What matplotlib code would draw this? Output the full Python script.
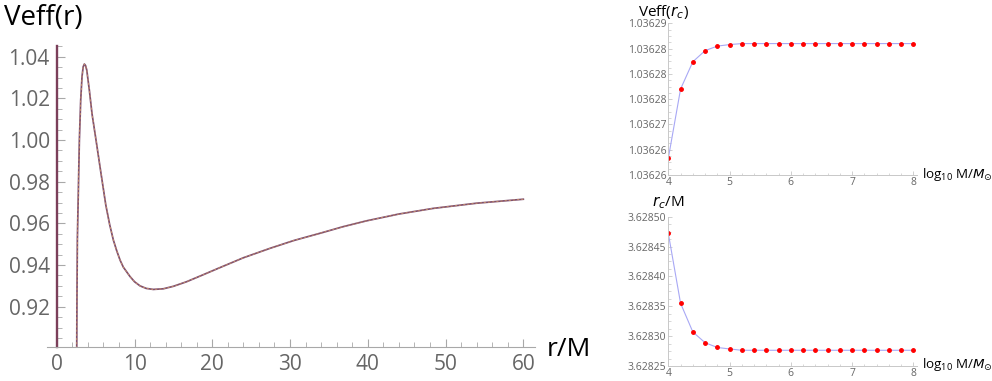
import matplotlib.pyplot as plt
from matplotlib.ticker import MultipleLocator, FixedLocator

plt.rcParams['font.family'] = ['Open Sans', 'DejaVu Sans']

# left panel: effective potential
r_vals = [2.55, 2.57, 2.60, 2.65, 2.78, 2.91, 3.08, 3.25, 3.40, 3.55, 3.70, 3.86,
          4.19, 4.54, 5.05, 5.65, 6.30, 6.80, 7.28, 7.70, 8.14, 8.56, 9.42, 10.0,
          10.71, 11.5, 12.4, 13.7, 15.0, 16.7, 18.8, 21.0, 24.0, 27.4, 30.5, 33.8,
          36.8, 39.8, 44.0, 48.4, 54.0, 60.0]
veff_vals = [0.890, 0.8992, 0.925, 0.952, 0.976, 1.000, 1.0192, 1.0305, 1.0352,
             1.0365, 1.0358, 1.0336, 1.024, 1.0125, 1.000, 0.985, 0.969, 0.9595,
             0.952, 0.947, 0.9424, 0.939, 0.9345, 0.932, 0.930, 0.9288, 0.9283,
             0.9286, 0.9298, 0.932, 0.9353, 0.9388, 0.9435, 0.948, 0.9518, 0.9552,
             0.9584, 0.9612, 0.9645, 0.9672, 0.9697, 0.9716]

# right panels: against log10 M/Msun
log_mass = [4.0, 4.2, 4.4, 4.6, 4.8, 5.0, 5.2, 5.4, 5.6, 5.8, 6.0, 6.2, 6.4, 6.6,
            6.8, 7.0, 7.2, 7.4, 7.6, 7.8, 8.0]
veff_rc = [1.0362633, 1.036277, 1.0362824, 1.0362846, 1.0362855, 1.0362858,
           1.036286, 1.036286, 1.036286, 1.036286, 1.036286, 1.036286,
           1.036286, 1.036286, 1.036286, 1.036286, 1.036286, 1.036286,
           1.036286, 1.036286, 1.036286]
rc_vals = [3.628472, 3.628355, 3.628307, 3.628289, 3.628281, 3.6282785,
           3.6282763, 3.6282763, 3.6282763, 3.6282763, 3.6282763, 3.6282763,
           3.6282763, 3.6282763, 3.6282763, 3.6282763, 3.6282763, 3.6282763,
           3.6282763, 3.6282763, 3.6282763]

veff_ticks = [1.03626, 1.036265, 1.03627, 1.036275, 1.03628, 1.036285, 1.03629]
veff_ticklabels = ['1.03626', '1.03626', '1.03627', '1.03628', '1.03628', '1.03628', '1.03629']
rc_ticks = [3.62825, 3.6283, 3.62835, 3.6284, 3.62845, 3.6285]
rc_ticklabels = ['3.62825', '3.62830', '3.62835', '3.62840', '3.62845', '3.62850']
mass_ticks = [4, 5, 6, 7, 8]

axis_gray = '#a8a8a8'
label_gray = '#666666'

fig = plt.figure(figsize=(9.92, 3.81), dpi=100)

# ---- left panel ----
ax = fig.add_axes([0.0471, 0.0900, 0.4922, 0.790])
ax.plot(r_vals, veff_vals, color='#7f4f6e', linewidth=1.25)
ax.plot(r_vals, veff_vals, color='#d9a066', linewidth=0.5, linestyle=(0, (3, 3)))
ax.set_xlim(-1.29, 61.5)
ax.set_ylim(0.9008, 1.0453)
for s in ['top', 'right']:
    ax.spines[s].set_visible(False)
ax.spines['left'].set_position(('data', 0))
ax.spines['left'].set_color('#7b3f5a')
ax.spines['left'].set_linewidth(1.7)
ax.spines['bottom'].set_color(axis_gray)
ax.xaxis.set_major_locator(MultipleLocator(10))
ax.xaxis.set_minor_locator(MultipleLocator(2))
ax.yaxis.set_major_locator(FixedLocator([0.92, 0.94, 0.96, 0.98, 1.00, 1.02, 1.04]))
ax.yaxis.set_minor_locator(MultipleLocator(0.005))
ax.yaxis.set_major_formatter(plt.FuncFormatter(lambda v, p: f'{v:.2f}'))
ax.tick_params(which='both', direction='in', color=axis_gray, labelcolor=label_gray,
               labelsize=15)
ax.tick_params(which='major', length=6, width=0.8)
ax.tick_params(which='minor', length=3.5, width=0.6)
ax.tick_params(axis='x', pad=5)
ax.tick_params(axis='y', pad=5)
fig.text(0.004, 0.953, 'Veff(r)', fontsize=20, color='black', va='center', ha='left')
fig.text(0.551, 0.082, 'r/M', fontsize=19, color='black', va='center', ha='left')


def small_panel(rect, yvals, ylim, yticks, yticklabels, title, title_xy, xlab_y):
    a = fig.add_axes(rect)
    a.plot(log_mass, yvals, color='#a8a8f5', linewidth=0.8)
    a.plot(log_mass, yvals, linestyle='none', marker='o', markersize=2.5,
           color='#ff0000')
    a.set_xlim(4, 8.06)
    a.set_ylim(*ylim)
    for s in ['top', 'right']:
        a.spines[s].set_visible(False)
    for s in ['left', 'bottom']:
        a.spines[s].set_color('#c8c8c8')
        a.spines[s].set_linewidth(0.7)
    a.set_xticks(mass_ticks)
    a.xaxis.set_minor_locator(MultipleLocator(0.2))
    a.set_yticks(yticks)
    a.set_yticklabels(yticklabels)
    a.yaxis.set_minor_locator(MultipleLocator((yticks[1] - yticks[0]) / 4))
    a.tick_params(which='both', direction='in', color='#c8c8c8', labelcolor=label_gray,
                  labelsize=7.5)
    a.tick_params(which='major', length=3, width=0.6, pad=1.5)
    a.tick_params(which='minor', length=1.8, width=0.5)
    fig.text(title_xy[0], title_xy[1], title, fontsize=11, color='black',
             va='center', ha='left')
    fig.text(0.929, xlab_y, r'$\mathregular{log_{10}}$ M/$M_{\odot}$', fontsize=9.6,
             color='black', va='center', ha='left')
    return a


small_panel([0.6737, 0.5407, 0.2507, 0.398], veff_rc, (1.03626, 1.03629),
            veff_ticks, veff_ticklabels, r'Veff($r_c$)', (0.643, 0.968), 0.541)
small_panel([0.6737, 0.0394, 0.2507, 0.392], rc_vals, (3.62825, 3.6285),
            rc_ticks, rc_ticklabels, r'$r_c$/M', (0.657, 0.469), 0.042)

fig.savefig('out.png', dpi=100)
